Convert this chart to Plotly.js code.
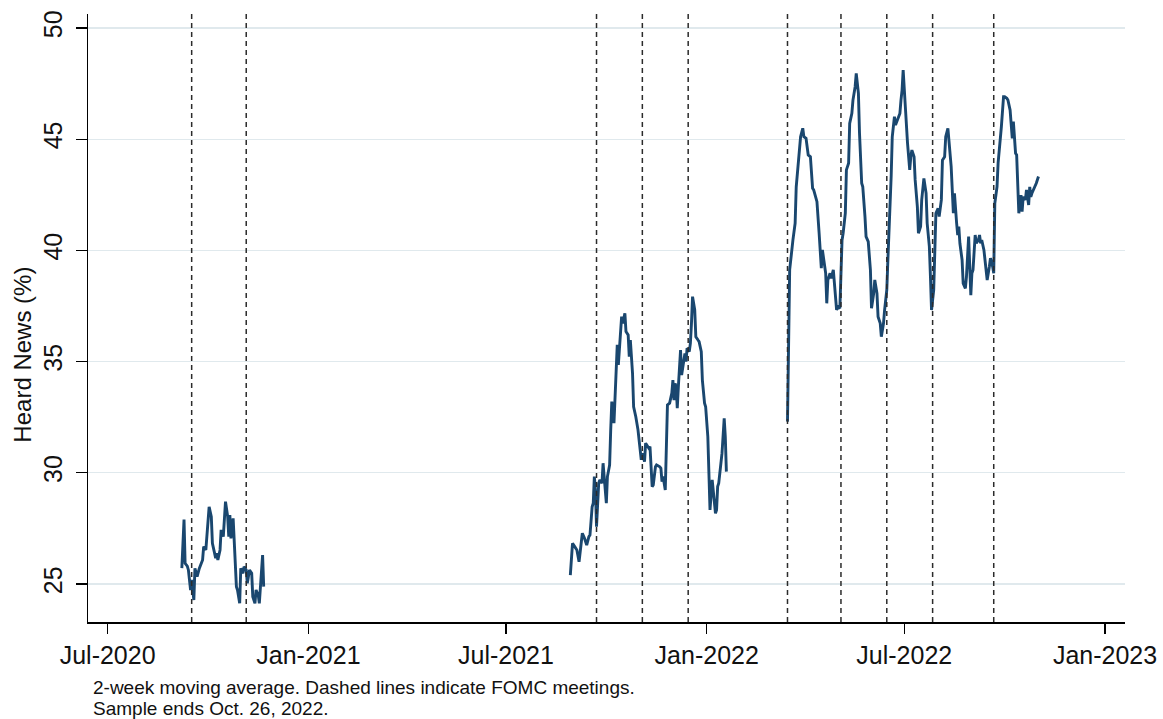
<!DOCTYPE html>
<html>
<head>
<meta charset="utf-8">
<script src="https://cdn.plot.ly/plotly-3.0.1.min.js"></script>
<style>html,body{margin:0;padding:0;background:#fff;}#chart{width:1163px;height:719px;}</style>
</head>
<body>
<div id="chart"></div>
<script>
// ---- Data ----
const dates1 = ["2020-09-07","2020-09-09","2020-09-10","2020-09-12","2020-09-13","2020-09-15","2020-09-16","2020-09-18","2020-09-19","2020-09-21","2020-09-23","2020-09-26","2020-09-27","2020-09-29","2020-10-02","2020-10-04","2020-10-05","2020-10-08","2020-10-09","2020-10-10","2020-10-12","2020-10-13","2020-10-15","2020-10-17","2020-10-19","2020-10-20","2020-10-21","2020-10-22","2020-10-24","2020-10-25","2020-10-27","2020-10-28","2020-10-30","2020-10-31","2020-11-02","2020-11-03","2020-11-05","2020-11-06","2020-11-08","2020-11-10","2020-11-11","2020-11-13","2020-11-14","2020-11-16","2020-11-17","2020-11-20","2020-11-21"];
const heard1 = [25.71,27.9,25.93,25.8,25.63,24.73,25.18,24.28,25.7,25.33,25.7,26.08,26.68,26.53,28.47,28.03,26.83,26.16,26.38,26.08,26.53,27.43,27.13,28.7,28.03,27.13,28.1,27.05,27.95,26.83,24.88,24.73,24.13,25.7,25.48,25.78,25.63,25.03,25.63,25.48,24.43,24.13,24.73,24.5,24.13,26.3,24.88];

const dates2 = ["2021-08-29","2021-08-31","2021-09-02","2021-09-04","2021-09-06","2021-09-07","2021-09-09","2021-09-11","2021-09-13","2021-09-15","2021-09-16","2021-09-18","2021-09-19","2021-09-20","2021-09-21","2021-09-22","2021-09-24","2021-09-25","2021-09-27","2021-09-28","2021-09-29","2021-10-01","2021-10-02","2021-10-04","2021-10-05","2021-10-06","2021-10-08","2021-10-09","2021-10-11","2021-10-12","2021-10-13","2021-10-15","2021-10-16","2021-10-18","2021-10-19","2021-10-21","2021-10-22","2021-10-23","2021-10-25","2021-10-26","2021-10-28","2021-10-30","2021-11-01","2021-11-02","2021-11-03","2021-11-05","2021-11-06","2021-11-07","2021-11-09","2021-11-10","2021-11-12","2021-11-13","2021-11-15","2021-11-16","2021-11-19","2021-11-20","2021-11-21","2021-11-22","2021-11-24","2021-11-26","2021-11-28","2021-11-30","2021-12-01","2021-12-02","2021-12-03","2021-12-04","2021-12-05","2021-12-06","2021-12-08","2021-12-09","2021-12-11","2021-12-12","2021-12-13","2021-12-14","2021-12-16","2021-12-17","2021-12-18","2021-12-19","2021-12-21","2021-12-22","2021-12-24","2021-12-25","2021-12-27","2021-12-28","2021-12-30","2021-12-31","2022-01-02","2022-01-03","2022-01-04","2022-01-06","2022-01-07","2022-01-09","2022-01-10","2022-01-11","2022-01-12","2022-01-14","2022-01-15","2022-01-17","2022-01-18","2022-01-19"];
const heard2 = [25.4,26.83,26.68,26.53,26.0,26.38,27.28,27.05,26.75,27.13,27.2,28.47,28.63,29.83,29.23,27.58,29.53,29.68,29.53,30.43,29.83,28.63,29.83,30.35,31.93,33.2,32.23,33.27,35.75,34.85,35.67,37.02,36.72,37.17,36.35,36.2,35.22,35.97,34.47,32.97,32.52,31.93,31.03,30.58,30.88,30.5,31.33,31.25,31.1,31.18,29.38,29.45,30.27,30.35,30.27,30.2,29.6,29.83,29.23,33.05,33.13,33.58,34.17,33.27,34.02,33.87,32.9,33.87,35.52,34.4,35.07,35.37,35.0,35.6,35.45,35.82,36.72,37.92,37.32,36.12,35.97,35.9,35.45,34.17,33.13,32.97,31.62,29.83,28.33,29.68,29.08,28.18,28.33,29.38,29.53,30.5,30.88,32.45,31.62,30.05];

const dates3 = ["2022-03-16","2022-03-17","2022-03-18","2022-03-21","2022-03-23","2022-03-24","2022-03-26","2022-03-28","2022-03-30","2022-03-31","2022-04-02","2022-04-04","2022-04-06","2022-04-07","2022-04-08","2022-04-09","2022-04-11","2022-04-12","2022-04-14","2022-04-15","2022-04-16","2022-04-17","2022-04-18","2022-04-20","2022-04-21","2022-04-22","2022-04-24","2022-04-25","2022-04-27","2022-04-28","2022-04-30","2022-05-01","2022-05-03","2022-05-05","2022-05-06","2022-05-08","2022-05-09","2022-05-11","2022-05-12","2022-05-14","2022-05-15","2022-05-17","2022-05-18","2022-05-20","2022-05-21","2022-05-23","2022-05-24","2022-05-26","2022-05-27","2022-05-29","2022-05-31","2022-06-01","2022-06-03","2022-06-04","2022-06-06","2022-06-07","2022-06-09","2022-06-10","2022-06-12","2022-06-13","2022-06-15","2022-06-16","2022-06-17","2022-06-18","2022-06-19","2022-06-20","2022-06-22","2022-06-23","2022-06-25","2022-06-27","2022-06-28","2022-06-29","2022-06-30","2022-07-01","2022-07-02","2022-07-04","2022-07-06","2022-07-07","2022-07-08","2022-07-10","2022-07-11","2022-07-13","2022-07-14","2022-07-16","2022-07-17","2022-07-19","2022-07-21","2022-07-22","2022-07-24","2022-07-25","2022-07-26","2022-07-28","2022-07-29","2022-07-30","2022-08-01","2022-08-02","2022-08-04","2022-08-05","2022-08-07","2022-08-08","2022-08-10","2022-08-11","2022-08-13","2022-08-15","2022-08-16","2022-08-18","2022-08-19","2022-08-20","2022-08-21","2022-08-23","2022-08-24","2022-08-26","2022-08-27","2022-08-29","2022-08-30","2022-08-31","2022-09-01","2022-09-02","2022-09-04","2022-09-05","2022-09-07","2022-09-08","2022-09-09","2022-09-10","2022-09-12","2022-09-14","2022-09-15","2022-09-17","2022-09-18","2022-09-20","2022-09-21","2022-09-22","2022-09-24","2022-09-25","2022-09-27","2022-09-28","2022-09-30","2022-10-01","2022-10-03","2022-10-04","2022-10-06","2022-10-07","2022-10-08","2022-10-09","2022-10-11","2022-10-12","2022-10-13","2022-10-14","2022-10-16","2022-10-17","2022-10-18","2022-10-20","2022-10-21","2022-10-23","2022-10-24","2022-10-25","2022-10-26","2022-10-28","2022-10-30","2022-11-01"];
const heard3 = [32.3,37.47,39.12,40.47,41.22,42.86,44.06,45.11,45.49,45.11,45.04,44.29,44.21,43.47,42.79,42.72,42.27,42.19,40.77,40.02,39.2,40.02,39.72,38.97,37.62,38.67,38.97,38.74,39.12,38.52,37.32,37.47,37.4,40.47,40.77,41.67,43.62,43.92,45.71,46.16,46.76,47.36,47.96,47.06,45.27,43.02,42.86,41.52,40.62,40.39,39.12,37.4,38.07,38.67,38.07,37.02,36.72,36.12,36.72,37.32,38.22,39.57,40.62,41.82,43.32,45.11,46.01,45.64,45.86,46.16,46.76,47.21,48.11,46.91,46.46,44.82,43.62,44.21,44.51,44.21,43.17,41.97,40.77,41.07,42.27,43.24,42.57,41.22,40.17,38.83,37.32,38.22,40.47,41.67,41.89,41.52,42.27,44.06,44.21,45.11,45.49,44.96,43.77,41.67,42.57,41.22,40.69,41.07,40.32,39.57,38.52,38.29,38.81,40.62,39.27,37.99,38.97,39.12,40.69,40.32,40.47,40.69,40.32,40.47,40.02,39.12,38.67,39.27,39.65,39.27,38.97,42.12,42.86,43.92,44.96,45.56,46.91,46.91,46.84,46.76,46.31,45.71,45.04,45.79,44.37,44.29,43.17,41.67,42.49,41.74,42.41,42.27,42.72,42.04,42.86,42.41,42.57,42.79,43.02,43.32];

const fomcDates = ["2020-09-16","2020-11-05","2021-09-22","2021-11-03","2021-12-15","2022-03-16","2022-05-04","2022-06-15","2022-07-27","2022-09-21"];

const xTickVals = ["2020-07-01","2021-01-01","2021-07-01","2022-01-01","2022-07-01","2023-01-01"];
const xTickText = ["Jul-2020","Jan-2021","Jul-2021","Jan-2022","Jul-2022","Jan-2023"];
const yTickVals = [25,30,35,40,45,50];
const yTitle = "Heard News (%)";

const noteLines = ["2-week moving average. Dashed lines indicate FOMC meetings.","Sample ends Oct. 26, 2022."];

// ---- Chart ----
const FONT = "Liberation Sans, Arial, Helvetica, sans-serif";
const lineStyle = {color:"#1a476f", width:2.9};
const segs = [[dates1,heard1],[dates2,heard2],[dates3,heard3]];
const traces = segs.map(s => ({
  x: s[0], y: s[1], type:"scatter", mode:"lines", line: lineStyle,
  showlegend:false, hoverinfo:"x+y"
}));

const shapes = fomcDates.map(d => ({
  type:"line", xref:"x", yref:"paper", x0:d, x1:d, y0:0, y1:1,
  line:{color:"#2b2b2b", width:1.5, dash:"5px,4px"}, layer:"above"
}));

const annotations = noteLines.map((t,i) => ({
  text:t, xref:"paper", yref:"paper", x:0.003, y:-0.108 - i*0.034,
  xanchor:"left", yanchor:"middle", showarrow:false, align:"left",
  font:{family:FONT, size:19, color:"#111"}
}));
// y-axis title placed like the reference (slightly below the plot centre)
annotations.push({
  text:yTitle, xref:"paper", yref:"paper", x:-0.0635, y:0.44,
  xanchor:"center", yanchor:"middle", textangle:-90, showarrow:false,
  font:{family:FONT, size:24, color:"#111"}
});

const layout = {
  width:1163, height:719,
  margin:{l:88, r:38, t:14, b:97},
  paper_bgcolor:"#ffffff", plot_bgcolor:"#ffffff",
  font:{family:FONT, color:"#111"},
  xaxis:{
    type:"date", range:["2020-06-13","2023-01-19 07:00"],
    tickmode:"array", tickvals:xTickVals, ticktext:xTickText,
    ticks:"outside", ticklen:10, tickwidth:1.3, tickcolor:"#000",
    showline:true, linecolor:"#000", linewidth:1.5,
    showgrid:false, zeroline:false,
    tickfont:{family:FONT, size:25, color:"#111"}
  },
  yaxis:{
    range:[23.29,50.63], tickmode:"array", tickvals:yTickVals,
    ticks:"outside", ticklen:11, tickwidth:1.3, tickcolor:"#000",
    tickangle:-90, ticklabelstandoff:4,
    showline:true, linecolor:"#000", linewidth:1.5,
    showgrid:true, gridcolor:"#e0e9ed", gridwidth:1.2, zeroline:false,
    tickfont:{family:FONT, size:25, color:"#111"}
  },
  shapes:shapes,
  annotations:annotations,
  showlegend:false
};

Plotly.newPlot("chart", traces, layout, {staticPlot:true, displayModeBar:false});
</script>
</body>
</html>
